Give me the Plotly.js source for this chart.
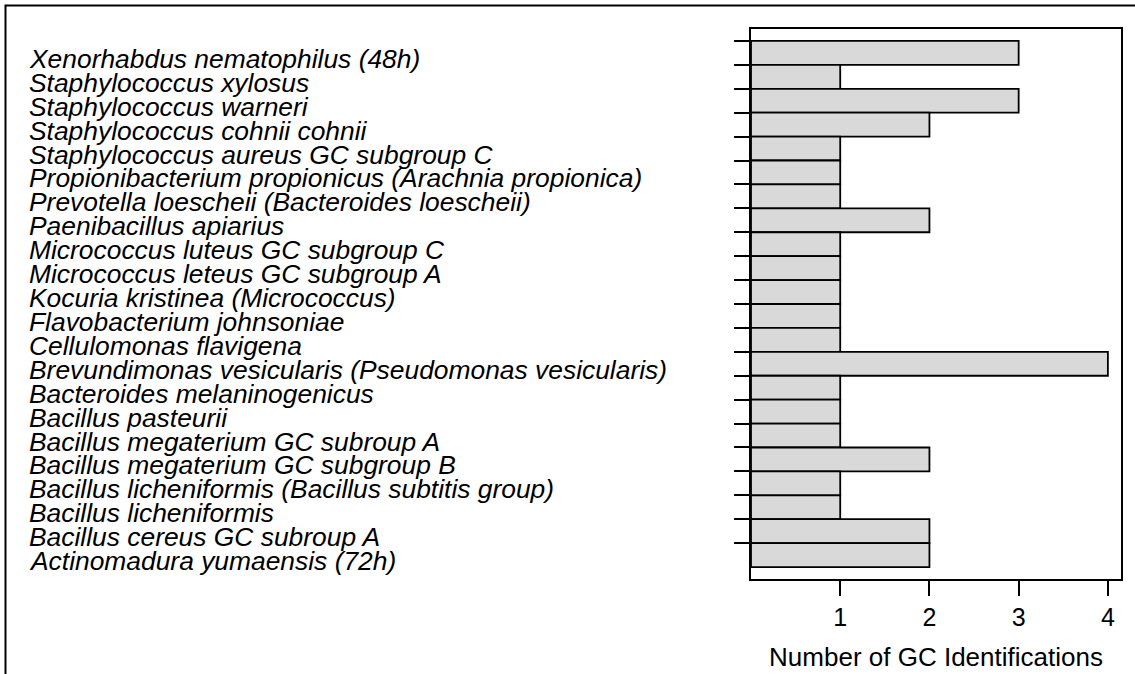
<!DOCTYPE html>
<html>
<head>
<meta charset="utf-8">
<script src="https://cdn.plot.ly/plotly-3.0.1.min.js"></script>
<style>
  html, body { margin: 0; padding: 0; background: #ffffff; }
  #chart { width: 1135px; height: 674px; }
</style>
</head>
<body>
<div id="chart"></div>
<script>
// Organisms, top to bottom as drawn
const organisms = [
  "Xenorhabdus nematophilus (48h)",
  "Staphylococcus xylosus",
  "Staphylococcus warneri",
  "Staphylococcus cohnii cohnii",
  "Staphylococcus aureus GC subgroup C",
  "Propionibacterium propionicus (Arachnia propionica)",
  "Prevotella loescheii (Bacteroides loescheii)",
  "Paenibacillus apiarius",
  "Micrococcus luteus GC subgroup C",
  "Micrococcus leteus GC subgroup A",
  "Kocuria kristinea (Micrococcus)",
  "Flavobacterium johnsoniae",
  "Cellulomonas flavigena",
  "Brevundimonas vesicularis (Pseudomonas vesicularis)",
  "Bacteroides melaninogenicus",
  "Bacillus pasteurii",
  "Bacillus megaterium GC subroup A",
  "Bacillus megaterium GC subgroup B",
  "Bacillus licheniformis (Bacillus subtitis group)",
  "Bacillus licheniformis",
  "Bacillus cereus GC subroup A",
  "Actinomadura yumaensis (72h)"
];
// Number of GC identifications per organism
const gcCounts = [3, 1, 3, 2, 1, 1, 1, 2, 1, 1, 1, 1, 1, 4, 1, 1, 1, 2, 1, 1, 2, 2];
// x-axis tick values
const xTicks = [1, 2, 3, 4];
const xTitle = "Number of GC Identifications";

const positions = organisms.map((_, i) => i);

const W = 1135, H = 674;
const M = { l: 751, r: 14, t: 29, b: 95 };
const pw = W - M.l - M.r, ph = H - M.t - M.b;
const px2paperX = px => (px - M.l) / pw;
const px2paperY = py => (H - M.b - py) / ph;

const FONT = "Liberation Sans, Arial, sans-serif";

const trace = {
  type: "bar",
  orientation: "h",
  x: gcCounts,
  y: positions,
  width: 1,
  marker: { color: "#d9d9d9", line: { color: "#000000", width: 1.8 } },
  hoverinfo: "skip"
};

const annotations = organisms.map((name, i) => ({
  text: "<i>" + name + "</i>",
  xref: "paper", yref: "y",
  x: px2paperX(27), y: positions[i],
  xanchor: "left", yanchor: "middle",
  yshift: -6,
  showarrow: false,
  font: { family: FONT, size: 26.4, color: "#000000" }
}));

const layout = {
  width: W, height: H,
  margin: M,
  paper_bgcolor: "#ffffff",
  plot_bgcolor: "#ffffff",
  showlegend: false,
  bargap: 0,
  xaxis: {
    range: [0, 4.147],
    tickmode: "array",
    tickvals: xTicks,
    ticktext: xTicks.map(String),
    ticks: "outside", ticklen: 15, tickwidth: 2, tickcolor: "#000000",
    showgrid: false, zeroline: false,
    showline: true, mirror: true, linecolor: "#000000", linewidth: 2,
    tickfont: { family: FONT, size: 25, color: "#000000" },
    title: { text: xTitle, standoff: 18, font: { family: FONT, size: 26, color: "#000000" } },
    fixedrange: true
  },
  yaxis: {
    range: [22, -1],
    tickmode: "array",
    tickvals: positions.map(p => p - 0.5),
    ticktext: positions.map(() => ""),
    ticks: "outside", ticklen: 15, tickwidth: 2, tickcolor: "#000000",
    showgrid: false, zeroline: false,
    showline: true, mirror: true, linecolor: "#000000", linewidth: 2,
    fixedrange: true
  },
  annotations: annotations,
  shapes: [
    {
      type: "path", xref: "paper", yref: "paper",
      path: "M " + px2paperX(5.5) + " " + px2paperY(H + 10) +
            " L " + px2paperX(5.5) + " " + px2paperY(5.5) +
            " L " + px2paperX(W + 10) + " " + px2paperY(5.5),
      line: { color: "#000000", width: 2 }
    }
  ]
};

Plotly.newPlot("chart", [trace], layout, { staticPlot: true, displayModeBar: false });
</script>
</body>
</html>
